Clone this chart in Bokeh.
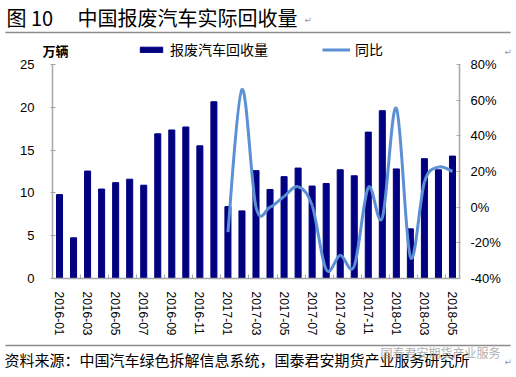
import numpy as np
from bokeh.plotting import figure
from bokeh.models import (Range1d, LinearAxis, FixedTicker, Legend, LegendItem,
                          Label, BoxAnnotation, ColumnDataSource, PrintfTickFormatter)
from bokeh.embed import file_html
from bokeh.resources import INLINE

# ---------------- data ----------------
months = ["2016-01", "2016-02", "2016-03", "2016-04", "2016-05", "2016-06",
          "2016-07", "2016-08", "2016-09", "2016-10", "2016-11", "2016-12",
          "2017-01", "2017-02", "2017-03", "2017-04", "2017-05", "2017-06",
          "2017-07", "2017-08", "2017-09", "2017-10", "2017-11", "2017-12",
          "2018-01", "2018-02", "2018-03", "2018-04", "2018-05"]
volume = [9.8, 4.75, 12.55, 10.45, 11.2, 11.6, 10.9, 16.9, 17.35, 17.7, 15.5, 20.65,
          8.4, 7.9, 12.6, 10.4, 11.9, 12.9, 10.8, 11.1, 12.7, 12.0, 17.1, 19.6,
          12.8, 5.8, 14.0, 12.7, 14.3]
yoy_months = months[12:]
yoy = [-14, 66, 0, 0, 6, 11.5, 1, -35, -27, -33, 11, -6, 55.5, -28, 14, 22.5, 20]
left_ticks = [0, 5, 10, 15, 20, 25]
right_ticks = [-40, -20, 0, 20, 40, 60, 80]

bar_name = "报废汽车回收量"
line_name = "同比"
fig_no = "图 10"
title_text = "中国报废汽车实际回收量"
unit_text = "万辆"
source_text = "资料来源：中国汽车绿色拆解信息系统，国泰君安期货产业服务研究所"
watermark_text = "国泰君安期货产业服务"
return_mark = "↵"

BAR_COLOR = "#000080"
LINE_COLOR = "#5B8FD6"
AXIS_COLOR = "#A6A6A6"
CJK = "Noto Sans CJK SC"

# ---------------- geometry (canvas px) ----------------
W, H = 516, 377
FL, FR, FT, FB = 52, 459, 64, 278   # plotting area edges on the canvas

ncat = len(months)
xlo, xhi = -0.5, ncat - 0.5
kx = (FR - FL) / (xhi - xlo)
lo, hi = left_ticks[0], left_ticks[-1]
ky = (FB - FT) / (hi - lo)
rlo, rhi = right_ticks[0], right_ticks[-1]
kr = (FB - FT) / (rhi - rlo)

x_range = Range1d(xlo - FL / kx, xhi + (W - FR) / kx)
y_range = Range1d(lo - (H - FB) / ky, hi + FT / ky)
pct_range = Range1d(rlo - (H - FB) / kr, rhi + FT / kr)

p = figure(width=W, height=H, output_backend="svg", toolbar_location=None,
           x_range=x_range, y_range=y_range, x_axis_location=None, y_axis_location=None,
           min_border=0)
p.outline_line_color = None
p.xgrid.visible = False
p.ygrid.visible = False
p.background_fill_color = "white"
p.border_fill_color = "white"
p.extra_y_ranges = {"pct": pct_range}

x_idx = list(range(ncat))
src = ColumnDataSource(dict(x=x_idx, v=volume))
bars = p.vbar(x="x", top="v", width=0.43, source=src, fill_color=BAR_COLOR,
              line_color=BAR_COLOR)

# smoothed line (Catmull-Rom bezier segments through the data points)
xs = np.array([months.index(m) for m in yoy_months], dtype=float)
ys = np.array(yoy, dtype=float)
n = len(xs)
prev_i = np.r_[0, np.arange(n - 1)]
next_i = np.r_[np.arange(1, n), n - 1]
x0, y0 = xs[:-1], ys[:-1]
x1, y1 = xs[1:], ys[1:]
cx0 = x0 + (xs[next_i][:-1] - xs[prev_i][:-1]) / 6
cy0 = y0 + (ys[next_i][:-1] - ys[prev_i][:-1]) / 6
cx1 = x1 - (xs[next_i][1:] - xs[prev_i][1:]) / 6
cy1 = y1 - (ys[next_i][1:] - ys[prev_i][1:]) / 6
bsrc = ColumnDataSource(dict(x0=x0, y0=y0, x1=x1, y1=y1, cx0=cx0, cy0=cy0, cx1=cx1, cy1=cy1))
curve = p.bezier(x0="x0", y0="y0", x1="x1", y1="y1", cx0="cx0", cy0="cy0",
                 cx1="cx1", cy1="cy1", source=bsrc, line_color=LINE_COLOR,
                 line_width=3, y_range_name="pct")

# ---------------- axes (fixed inside the canvas) ----------------
xa = LinearAxis(fixed_location=lo, bounds=(xlo, xhi))
xa.ticker = FixedTicker(ticks=x_idx[::2], minor_ticks=[i + 1.5 for i in x_idx[:-1:2]])
xa.major_label_overrides = {i: months[i] for i in x_idx}
xa.major_label_orientation = "vertical"
xa.major_tick_line_color = None
xa.minor_tick_in = 4
xa.minor_tick_out = 0
xa.minor_tick_line_color = AXIS_COLOR
xa.axis_line_color = AXIS_COLOR
xa.axis_line_width = 1.5
xa.major_label_text_font = "Liberation Sans"
xa.major_label_text_font_size = "12px"
xa.major_label_text_color = "black"
xa.major_label_standoff = 7
p.add_layout(xa, "below")

ya = LinearAxis(fixed_location=xlo, bounds=(lo, hi), ticker=FixedTicker(ticks=left_ticks))
ya.axis_line_color = AXIS_COLOR
ya.axis_line_width = 1.5
ya.major_tick_line_color = AXIS_COLOR
ya.major_tick_out = 2
ya.major_tick_in = 3
ya.minor_tick_line_color = None
ya.major_label_text_font = "Liberation Sans"
ya.major_label_text_font_size = "13px"
ya.major_label_text_color = "black"
ya.major_label_standoff = 16
p.add_layout(ya, "left")

ra = LinearAxis(y_range_name="pct", fixed_location=xhi, bounds=(rlo, rhi),
                ticker=FixedTicker(ticks=right_ticks),
                formatter=PrintfTickFormatter(format="%d%%"))
ra.axis_line_color = AXIS_COLOR
ra.axis_line_width = 1.5
ra.major_tick_line_color = AXIS_COLOR
ra.major_tick_in = 3
ra.major_tick_out = 1
ra.minor_tick_line_color = None
ra.major_label_text_font = "Liberation Sans"
ra.major_label_text_font_size = "13px"
ra.major_label_text_color = "black"
ra.major_label_standoff = 10
p.add_layout(ra, "right")

# ---------------- legend ----------------
def sx(cx):
    return cx

def sy(cy):
    return H - cy

legend = Legend(items=[LegendItem(label=bar_name, renderers=[bars]),
                       LegendItem(label=line_name, renderers=[curve])],
                orientation="horizontal", location=(sx(137), sy(59)),
                padding=0, margin=0, spacing=54, glyph_width=28, glyph_height=7,
                label_standoff=5, border_line_color=None, background_fill_alpha=0,
                label_text_font=CJK, label_text_font_size="14px",
                label_text_color="black")
p.add_layout(legend, "center")

# ---------------- texts / rules ----------------
p.add_layout(Label(x=sx(6), y=sy(17), x_units="screen", y_units="screen", text=fig_no,
                   text_font=CJK, text_font_size="20px", text_color="black",
                   text_baseline="middle"))
p.add_layout(Label(x=sx(77), y=sy(17), x_units="screen", y_units="screen", text=title_text,
                   text_font=CJK, text_font_size="20px", text_color="black",
                   text_baseline="middle"))
p.add_layout(Label(x=sx(42), y=sy(50), x_units="screen", y_units="screen", text=unit_text,
                   text_font=CJK, text_font_size="13px", text_font_style="bold",
                   text_color="black", text_baseline="middle"))
p.add_layout(Label(x=sx(4), y=sy(359), x_units="screen", y_units="screen", text=source_text,
                   text_font=CJK, text_font_size="15px", text_color="black",
                   text_baseline="middle"))
p.add_layout(Label(x=sx(380), y=sy(352), x_units="screen", y_units="screen", text=watermark_text,
                   text_font=CJK, text_font_size="12px", text_color="#9A9A9A",
                   text_alpha=0.8, text_baseline="middle"))
for (cx, cy) in ((304, 19), (504, 51), (504, 361)):
    p.add_layout(Label(x=sx(cx), y=sy(cy), x_units="screen", y_units="screen", text=return_mark,
                       text_font="DejaVu Sans", text_font_size="9px", text_color="#9A9A9A",
                       text_baseline="middle"))

for cy in (32, 345):
    p.add_layout(BoxAnnotation(left=sx(5), right=sx(510), top=sy(cy - 0.75), bottom=sy(cy + 0.75),
                               left_units="screen", right_units="screen",
                               top_units="screen", bottom_units="screen",
                               fill_color="#8C8C8C", fill_alpha=1, line_color=None))

open("out.html", "w").write(file_html(p, INLINE))
